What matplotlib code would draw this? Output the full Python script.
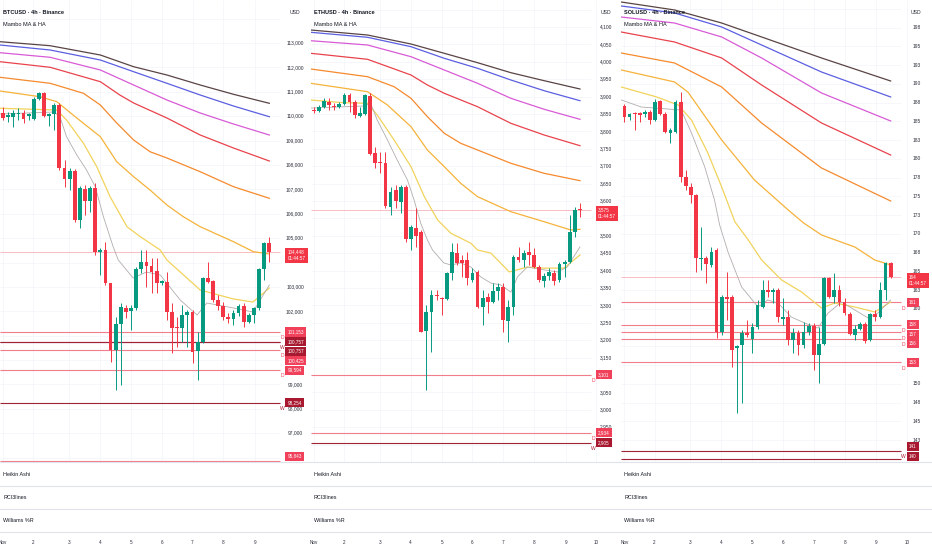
import matplotlib
matplotlib.use("Agg")
import matplotlib.pyplot as plt
from matplotlib import font_manager, transforms

# ---------------------------------------------------------------- data
btc_open = [110130, 109966, 109966, 110069, 110130, 110007, 109884, 110704, 110950, 110007,
            110089, 110458, 107875, 107424, 107752, 105743, 107014, 106522, 107055, 104431,
            104513, 103160, 100413, 101479, 102135, 102012, 102135, 103734, 104021, 103857,
            103652, 103160, 103201, 101971, 101356, 101315, 101848, 101971, 100372, 100741,
            103365, 103242, 102463, 102217, 101766, 101684, 101930, 102217, 101561, 101848,
            102135, 103734, 104800]
btc_high = [110376, 110171, 110253, 110335, 110253, 110130, 110786, 110991, 110991, 110130,
            110540, 110540, 108203, 107875, 107834, 107137, 107178, 107137, 107260, 104595,
            104841, 103160, 101766, 102340, 102258, 102258, 103816, 104513, 104513, 104185,
            104185, 103283, 103611, 102340, 101766, 102258, 102053, 102053, 101151, 103406,
            104021, 103283, 102668, 102381, 101930, 102053, 102299, 102340, 101930, 102176,
            103775, 104841, 105046]
btc_low = [109843, 109761, 109556, 109843, 109720, 109843, 109843, 110663, 109966, 109597,
           109433, 107793, 107096, 106973, 105661, 105415, 105948, 106071, 104308, 103488,
           103078, 99921, 98773, 98978, 101725, 101233, 102053, 103570, 102996, 102750,
           102750, 103078, 101643, 100290, 100536, 100741, 100536, 99880, 99183, 100700,
           103160, 102381, 102053, 101643, 101520, 101438, 101807, 101356, 101520, 101520,
           102053, 103283, 104021]
btc_close = [109925, 110048, 110130, 110130, 109884, 110089, 110704, 110950, 110007, 110089,
             110458, 107875, 107424, 107752, 105743, 107055, 106522, 107055, 104431, 104513,
             103160, 100413, 101479, 102176, 101971, 102135, 103734, 104021, 103857, 103611,
             103160, 103242, 101971, 101315, 101315, 101848, 101971, 100331, 100741, 103365,
             103201, 102463, 102217, 101766, 101684, 101930, 102217, 101561, 101848, 102135,
             103734, 104800, 104448]

eth_open = [3862, 3858.6, 3870.1, 3884.4, 3872.9, 3870.1, 3878.7, 3904.6, 3884.4, 3844.2,
            3849.9, 3901.7, 3737.9, 3712.0, 3709.1, 3582.7, 3631.5, 3597.0, 3640.2, 3490.7,
            3522.3, 3510.8, 3226.3, 3280.9, 3329.8, 3321.1, 3318.3, 3393.0, 3450.5, 3430.4,
            3430.4, 3372.9, 3395.9, 3295.3, 3324.0, 3309.6, 3341.3, 3352.8, 3255.0, 3295.3,
            3439.0, 3430.4, 3453.4, 3444.7, 3410.2, 3370.0, 3384.4, 3393.0, 3372.9, 3418.9,
            3424.6, 3510.8, 3576]
eth_high = [3870, 3875.8, 3895.9, 3895.9, 3881.6, 3884.4, 3910.3, 3910.3, 3890.2, 3870.1,
            3907.5, 3910.3, 3755.1, 3740.8, 3740.8, 3640.2, 3645.9, 3645.9, 3645.9, 3531.0,
            3579.8, 3516.6, 3301.0, 3344.1, 3344.1, 3324.0, 3395.9, 3479.2, 3479.2, 3444.7,
            3453.4, 3407.3, 3401.6, 3344.1, 3335.5, 3364.3, 3364.3, 3364.3, 3315.4, 3444.7,
            3467.7, 3459.1, 3482.1, 3464.8, 3416.0, 3393.0, 3407.3, 3401.6, 3424.6, 3430.4,
            3559.7, 3582.7, 3594.2]
eth_low = [3853, 3855.7, 3867.2, 3861.5, 3861.5, 3867.2, 3875.8, 3855.7, 3838.5, 3841.3,
           3847.1, 3732.1, 3694.8, 3680.4, 3579.8, 3559.7, 3579.8, 3565.4, 3482.1, 3459.1,
           3467.7, 3223.4, 3056.7, 3166.0, 3315.4, 3272.3, 3315.4, 3372.9, 3416.0, 3381.5,
           3358.5, 3367.2, 3292.4, 3243.5, 3278.0, 3306.8, 3315.4, 3223.4, 3194.7, 3272.3,
           3424.6, 3410.2, 3416.0, 3407.4, 3367.2, 3352.8, 3372.9, 3358.5, 3367.2, 3381.5,
           3421.7, 3496.5, 3554.0]
eth_close = [3860, 3870.1, 3887.3, 3875.8, 3870.1, 3878.7, 3904.6, 3884.4, 3847.1, 3852.8,
             3904.6, 3735.0, 3709.1, 3709.1, 3585.5, 3625.8, 3599.9, 3640.2, 3490.7, 3525.2,
             3499.3, 3223.4, 3280.9, 3329.8, 3326.9, 3318.3, 3393.0, 3453.4, 3421.7, 3421.7,
             3378.6, 3393.0, 3295.3, 3321.1, 3309.6, 3341.3, 3352.8, 3257.9, 3295.3, 3439.0,
             3430.4, 3450.5, 3444.7, 3410.2, 3372.9, 3384.4, 3395.9, 3370.0, 3418.9, 3424.6,
             3510.8, 3574.1, 3575]

sol_open = [187.07, 185.6, 186.13, 186.13, 186.0, 186.27, 185.2, 187.73, 186.0, 183.47,
            183.6, 187.6, 177.6, 176.27, 175.2, 166.67, 166.8, 165.87, 167.87, 156.93,
            161.6, 161.6, 154.8, 155.2, 156.8, 156.0, 157.6, 160.27, 162.53, 162.27,
            162.53, 158.67, 158.93, 155.87, 156.8, 155.2, 156.93, 157.73, 153.87, 155.33,
            164.13, 161.6, 162.53, 160.93, 159.33, 156.53, 157.33, 158.0, 155.87, 159.33,
            158.93, 162.53, 166.13]
sol_high = [187.33, 186.13, 186.27, 186.27, 186.53, 186.53, 188.0, 187.87, 186.27, 184.13,
            187.87, 188.93, 178.53, 176.8, 175.33, 170.93, 167.07, 168.27, 168.13, 161.87,
            164.93, 161.87, 155.2, 157.2, 158.53, 158.13, 161.2, 163.87, 163.87, 162.8,
            162.8, 161.47, 159.87, 157.47, 157.2, 158.27, 158.13, 158.13, 157.6, 164.27,
            164.27, 164.8, 163.2, 161.47, 159.6, 157.87, 158.27, 158.27, 159.47, 159.87,
            163.6, 166.27, 166.27]
sol_low = [184.93, 185.2, 183.87, 184.93, 185.6, 184.67, 185.07, 185.87, 183.47, 182.13,
           183.47, 176.93, 175.87, 174.13, 164.93, 165.2, 163.47, 165.6, 156.13, 156.5,
           158.53, 152.27, 146.13, 147.47, 156.27, 154.13, 157.33, 160.13, 161.6, 160.8,
           158.27, 157.87, 155.2, 154.13, 153.87, 154.8, 156.53, 151.87, 150.13, 155.2,
           161.47, 160.8, 160.4, 159.2, 156.53, 155.87, 157.2, 155.47, 155.73, 158.4,
           158.8, 161.2, 164.13]
sol_close = [185.6, 186.0, 186.0, 185.87, 186.27, 185.2, 187.6, 186.0, 183.6, 183.87,
             187.6, 177.6, 176.4, 175.2, 166.8, 166.8, 166.0, 167.6, 156.93, 161.6,
             161.33, 154.53, 155.07, 156.8, 156.53, 157.6, 160.53, 162.53, 162.27, 162.53,
             158.93, 158.93, 155.87, 156.8, 155.2, 156.93, 157.73, 153.87, 155.33, 164.13,
             161.6, 162.53, 160.93, 159.47, 156.67, 157.33, 158.0, 155.73, 159.33, 158.93,
             162.53, 166.13, 164.3]

# moving averages (sampled at candle positions)
btc_slow_x = [-0.6, 9.2, 19, 25.5, 32, 38.5, 45, 52]
btc_ma_brown = [113053, 112889, 112508, 112028, 111688, 111278, 110897, 110528]
btc_ma_blue = [112918, 112713, 112303, 111823, 111348, 110868, 110417, 109978]
btc_ma_magenta = [112602, 112414, 111893, 111278, 110663, 110130, 109679, 109228]
btc_red_x = [-0.6, 9.2, 19, 22.8, 25.5, 32, 38.5, 45, 52]
btc_ma_red = [112233, 112004, 111413, 110868, 110540, 109925, 109228, 108695, 108162]
btc_orange_x = [-0.6, 9.2, 15.7, 19, 22.2, 25.5, 28.7, 32, 38.5, 45, 52]
btc_ma_orange = [111594, 111348, 110938, 110458, 109720, 109023, 108543, 108285, 107723,
                 107108, 106633]
btc_gold_x = [-0.6, 7.2, 10.5, 14.4, 19, 22.2, 25.5, 28.7, 32, 35.2, 38.5, 45, 48.9, 52]
btc_ma_gold = [111032, 110798, 110593, 109925, 109158, 108133, 107518, 106973, 106358,
               105878, 105468, 104853, 104443, 104349]
btc_yellow_x = [-0.6, 5.9, 10.5, 12.4, 15.7, 18.3, 20.9, 24.2, 26.8, 30.7, 32, 34.6, 38.5,
                45, 48.8, 52]
btc_ma_yellow = [110323, 110282, 110253, 109843, 108888, 107928, 106698, 105468, 105058,
                 104513, 104103, 103611, 102873, 102504, 102381, 102955]
btc_gray_x = [-0.6, 10, 11.1, 12.4, 14.4, 16.3, 18, 19.6, 21.5, 22.5, 25.4, 28, 30.7, 34.6,
              37.9, 39.8, 45, 48.8, 52]
btc_ma_gray = [110089, 110171, 109978, 109158, 108408, 107793, 107108, 105878, 104648,
               104103, 103365, 103611, 103488, 102463, 101848, 102340, 102135, 101971, 103078]

eth_slow_x = [-0.6, 10.5, 19, 25.5, 32, 38.5, 45, 52]
eth_ma_brown = [4091.4, 4077.0, 4051.1, 4024.4, 3997.4, 3968.7, 3945.7, 3921.8]
eth_ma_blue = [4084.8, 4070.4, 4043.4, 4010.0, 3981.3, 3947.7, 3916.9, 3888.2]
eth_ma_magenta = [4060.6, 4048.3, 4014.6, 3976.4, 3938.2, 3895.1, 3863.5, 3834.7]
eth_red_x = [-0.6, 10.5, 19, 22.2, 25.5, 32, 38.5, 45, 52]
eth_ma_red = [4024.4, 4007.2, 3962.0, 3933.3, 3909.5, 3870.9, 3823.2, 3789.6, 3758.9]
eth_orange_x = [-0.6, 10.5, 15.7, 19, 22.2, 25.5, 28.7, 32, 38.5, 45, 52]
eth_ma_orange = [3979.3, 3957.2, 3928.4, 3895.1, 3842.2, 3794.5, 3765.8, 3746.5, 3708.3,
                 3679.5, 3658.3]
eth_gold_x = [-0.6, 10.5, 14.4, 19, 22.2, 25.5, 28.7, 32, 38.5, 45, 50.2, 52]
eth_ma_gold = [3938.2, 3914.1, 3875.8, 3813.5, 3746.5, 3698.5, 3650.8, 3612.3, 3569.2,
               3540.4, 3516.6, 3518.6]
eth_yellow_x = [-0.6, 5.9, 10.5, 12.4, 15.7, 19, 21.6, 24.2, 26.8, 30.7, 32, 34.6, 38.2,
                41.7, 45, 48.9, 52]
eth_ma_yellow = [3890.2, 3882.4, 3880.7, 3847.1, 3775.2, 3698.5, 3612.3, 3545.3, 3507.1,
                 3478.4, 3459.1, 3450, 3396, 3410, 3407, 3407, 3445]
eth_gray_x = [-0.6, 9.8, 11.1, 12.4, 14.4, 16.3, 18.3, 19.6, 20.9, 22.2, 23.2, 25.4, 26.8,
              28.7, 30.7, 32.6, 34.6, 36.5, 38.5, 39.8, 41.7, 45, 47.6, 49.5, 52]
eth_ma_gray = [3867, 3873, 3880.7, 3832.7, 3775.2, 3717.8, 3660.3, 3602.8, 3535.8, 3487.8,
               3459.1, 3422, 3416, 3422, 3410, 3382, 3364, 3359, 3338, 3382, 3410, 3402,
               3396, 3410, 3468]

sol_slow_x = [-0.6, 9.8, 19, 26.8, 38.5, 52]
sol_ma_brown = [200.93, 199.87, 198.13, 196.27, 193.47, 190.4]
sol_ma_blue = [200.4, 199.47, 197.6, 195.2, 191.6, 188.27]
sol_ma_magenta = [198.93, 198.13, 196.27, 193.47, 188.8, 185.07]
sol_ma_red = [196.93, 195.6, 193.47, 189.87, 184.8, 180.53]
sol_ma_orange = [194.13, 192.8, 189.6, 184.8, 178.8, 174.4]
sol_gold_x = [-0.6, 9.8, 12.4, 19, 25.4, 32, 35, 38.5, 45, 48.9, 52]
sol_ma_gold = [191.87, 190.27, 188.93, 182.53, 177.2, 173.2, 171.47, 169.87, 168.27, 166.53,
               165.87]
sol_yellow_x = [-0.6, 6.3, 10.5, 13.1, 16.3, 19, 21.6, 24.2, 26.8, 30.7, 34.6, 38.5, 41.1,
                45, 48.9, 52]
sol_ma_yellow = [189.6, 188.27, 187.2, 185.2, 180.8, 176.27, 171.6, 169.2, 166.53, 163.87,
                 162.27, 160.13, 160.8, 160.27, 159.6, 160.93]
sol_gray_x = [-0.6, 3.3, 11.1, 13.1, 15.7, 17.6, 18.6, 20.3, 22.9, 26.1, 28, 30, 32.6, 35.2,
              37.8, 39.8, 42.4, 45, 47.6, 49.5, 52]
sol_ma_gray = [187.87, 186.93, 186.53, 183.47, 178.93, 174.53, 171.2, 167.47, 162.93, 160.27,
               161.2, 160.8, 158.93, 158.13, 157.47, 159.47, 160.93, 159.87, 158.8, 159.47,
               161.2]

# support / resistance levels
btc_levels = [101153, 100757, 100757, 100425, 99594, 98254, 95843]
btc_level_tags = ["D", "W", "", "D", "D", "W", ""]
btc_level_dark = [False, True, True, False, False, True, False]
eth_levels = [3101, 2934, 2905]
eth_level_tags = ["D", "D", "W"]
eth_level_dark = [False, False, True]
sol_levels = [160.9, 157.9, 156.9, 156.0, 152.9, 141.1, 140.0]
sol_level_tags = ["D", "D", "D", "D", "D", "W", ""]
sol_level_dark = [False, False, False, False, False, True, True]

# axis ticks
btc_ticks = list(range(96000, 115000, 1000))
btc_tick_labels = [f"{v:,}" for v in btc_ticks]
eth_ticks = list(range(2900, 4200, 50))
eth_tick_labels = [f"{v:,}" for v in eth_ticks]
sol_ticks = [142.5, 145, 147.5, 150, 152.5, 155, 157.5, 160, 162.5, 165, 167.5, 170, 172.5,
             175, 177.5, 180, 182.5, 185, 187.5, 190, 192.5, 195, 197.5, 200]
sol_tick_labels = ["143", "145", "148", "150", "153", "155", "158", "160", "163", "165",
                   "168", "170", "173", "175", "178", "180", "183", "185", "188", "190",
                   "193", "195", "198", "200"]

day_labels_btc = ["Nov", "2", "3", "4", "5", "6", "7", "8", "9"]
day_labels_eth = ["Nov", "2", "3", "4", "5", "6", "7", "8", "9", "10"]
day_labels_sol = ["Nov", "2", "3", "4", "5", "6", "7", "8", "9", "10"]
day_positions = [0, 5.9, 12.9, 18.9, 25.0, 31.0, 37.0, 43.0, 49.2, 55.2]

titles = ["BTCUSD · 4h · Binance", "ETHUSD · 4h · Binance", "SOLUSD · 4h · Binance"]
price_labels = ["104,448", "3,575", "164"]
countdown = "01:44:57"
pane_names = ["Heikin Ashi", "RCI3lines", "Williams %R"]

# ---------------------------------------------------------------- style
names = {f.name for f in font_manager.fontManager.ttflist}
if "Liberation Sans Narrow" in names:
    plt.rcParams["font.family"] = ["Liberation Sans Narrow", "DejaVu Sans"]
    FS = 1.0
else:
    plt.rcParams["font.family"] = ["Liberation Sans", "DejaVu Sans"]
    FS = 0.84

W_PX, H_PX = 932, 550
PANEL_W = W_PX / 3
MAIN_H = 462
PLOT_W = 280
PX_PER_C = 5.12
X0 = -0.6
GREEN, RED = "#089981", "#f23645"
TXT = "#131722"
MA_COLORS = ["#5a4444", "#5b5fe0", "#d85bd6", "#e8434c", "#f58a2e", "#f5b33b", "#f1d35c"]
GRAY = "#b3adad"
LIGHT_LVL, DARK_LVL = "#f07d89", "#9e2336"
LIGHT_LBL, DARK_LBL = "#f0405a", "#a8192f"

fig = plt.figure(figsize=(W_PX / 100, H_PX / 100), dpi=100)
fig.patch.set_facecolor("white")

panels = [
    dict(o=btc_open, h=btc_high, l=btc_low, c=btc_close,
         mas=[(btc_slow_x, btc_ma_brown), (btc_slow_x, btc_ma_blue), (btc_slow_x, btc_ma_magenta),
              (btc_red_x, btc_ma_red), (btc_orange_x, btc_ma_orange), (btc_gold_x, btc_ma_gold),
              (btc_yellow_x, btc_ma_yellow)],
         gray=(btc_gray_x, btc_ma_gray), ylim=(95821, 114763),
         levels=btc_levels, tags=btc_level_tags, dark=btc_level_dark,
         fmt=lambda v: f"{v:,.0f}", ticks=btc_ticks, tick_labels=btc_tick_labels,
         days=day_labels_btc),
    dict(o=eth_open, h=eth_high, l=eth_low, c=eth_close,
         mas=[(eth_slow_x, eth_ma_brown), (eth_slow_x, eth_ma_blue), (eth_slow_x, eth_ma_magenta),
              (eth_red_x, eth_ma_red), (eth_orange_x, eth_ma_orange), (eth_gold_x, eth_ma_gold),
              (eth_yellow_x, eth_ma_yellow)],
         gray=(eth_gray_x, eth_ma_gray), ylim=(2849.8, 4177.6),
         levels=eth_levels, tags=eth_level_tags, dark=eth_level_dark,
         fmt=lambda v: f"{v:,.0f}", ticks=eth_ticks, tick_labels=eth_tick_labels,
         days=day_labels_eth),
    dict(o=sol_open, h=sol_high, l=sol_low, c=sol_close,
         mas=[(sol_slow_x, sol_ma_brown), (sol_slow_x, sol_ma_blue), (sol_slow_x, sol_ma_magenta),
              (sol_slow_x, sol_ma_red), (sol_slow_x, sol_ma_orange), (sol_gold_x, sol_ma_gold),
              (sol_yellow_x, sol_ma_yellow)],
         gray=(sol_gray_x, sol_ma_gray), ylim=(139.6, 201.2),
         levels=sol_levels, tags=sol_level_tags, dark=sol_level_dark,
         fmt=lambda v: f"{v:.0f}", ticks=sol_ticks, tick_labels=sol_tick_labels,
         days=day_labels_sol),
]

xmax_data = X0 + PANEL_W / PX_PER_C
plot_right = X0 + PLOT_W / PX_PER_C
axis_x_frac = 295 / PANEL_W
label_x_frac = 287.5 / PANEL_W
tag_x_frac = 282.5 / PANEL_W


def px_of(ylim, v):
    return (ylim[1] - v) / (ylim[1] - ylim[0]) * MAIN_H


for k, p in enumerate(panels):
    left = k * PANEL_W / W_PX
    ax = fig.add_axes([left, 1 - MAIN_H / H_PX, PANEL_W / W_PX, MAIN_H / H_PX])
    ax.set_xlim(X0, xmax_data)
    ax.set_ylim(*p["ylim"])
    ax.axis("off")
    ylim = p["ylim"]
    ppx = (ylim[1] - ylim[0]) / MAIN_H  # price per pixel
    bt = transforms.blended_transform_factory(ax.transAxes, ax.transData)

    # faint grid
    gt = [t for t in p["ticks"] if ylim[0] < t < ylim[1]]
    ax.hlines(gt, X0, plot_right, color="#f3f4f8", lw=0.5, zorder=0)
    ax.vlines(day_positions[:len(p["days"])], ylim[0], ylim[1], color="#f3f4f8", lw=0.5, zorder=0)

    # MAs
    for (xs, ys), col in zip(p["mas"], MA_COLORS):
        ax.plot(xs, ys, color=col, lw=0.9, zorder=2, solid_joinstyle="round")
    ax.plot(p["gray"][0], p["gray"][1], color=GRAY, lw=0.6, zorder=2)

    # candles
    n = len(p["o"])
    xs = list(range(n))
    cols = [GREEN if c >= o else RED for o, c in zip(p["o"], p["c"])]
    ax.vlines(xs, p["l"], p["h"], colors=cols, lw=0.7, zorder=3)
    bottoms = [min(o, c) for o, c in zip(p["o"], p["c"])]
    heights = [max(abs(c - o), ppx * 1.0) for o, c in zip(p["o"], p["c"])]
    ax.bar(xs, heights, bottom=bottoms, width=0.74, color=cols, lw=0, zorder=4)

    # level lines
    for lv, dk, tg in zip(p["levels"], p["dark"], p["tags"]):
        ax.hlines(lv, X0, plot_right, color=DARK_LVL if dk else LIGHT_LVL, lw=0.8, zorder=1.5)
        if tg:
            ax.text(tag_x_frac, lv - 6 * ppx, tg, transform=bt, ha="center", va="center",
                    fontsize=4.3 * FS, color=DARK_LBL if tg == "W" else "#f0405a", zorder=6)

    # price line
    last = p["c"][-1]
    ax.hlines(last, X0, plot_right, color="#f6b3b9", lw=0.6, zorder=1.5)

    # label layout (stacking in pixel space)
    items = [dict(px=px_of(ylim, last), h=17, kind="price")]
    for lv, dk in zip(p["levels"], p["dark"]):
        items.append(dict(px=px_of(ylim, lv), h=9.5, kind="lvl", v=lv, dark=dk))
    items.sort(key=lambda d: d["px"])
    prev_bottom = -1e9
    for it in items:
        top = it["px"] - 4.75
        top = max(top, prev_bottom)
        it["top"] = top
        prev_bottom = top + it["h"]
    limit = MAIN_H - 1
    for it in reversed(items):
        if it["top"] + it["h"] > limit:
            it["top"] = limit - it["h"]
        limit = it["top"]
    boxes = []
    for it in items:
        center_px = it["top"] + it["h"] / 2
        yv = ylim[1] - center_px * ppx
        boxes.append((it["top"], it["top"] + it["h"]))
        if it["kind"] == "price":
            ax.text(label_x_frac, yv, price_labels[k] + "\n" + countdown, transform=bt,
                    ha="left", va="center", fontsize=4.0 * FS, color="white", linespacing=1.35,
                    zorder=8, bbox=dict(boxstyle="square,pad=0.45", fc=RED, ec="none"))
        else:
            ax.text(label_x_frac, yv, p["fmt"](it["v"]), transform=bt, ha="left", va="center",
                    fontsize=4.0 * FS, color="white", zorder=8,
                    bbox=dict(boxstyle="square,pad=0.45",
                              fc=DARK_LBL if it["dark"] else LIGHT_LBL, ec="none"))

    # y axis tick labels
    for t, lab in zip(p["ticks"], p["tick_labels"]):
        tp = px_of(ylim, t)
        if tp < 24 or tp > MAIN_H - 3:
            continue
        if any(b0 + 1 < tp < b1 - 1 for b0, b1 in boxes):
            continue
        ax.text(axis_x_frac, t, lab, transform=bt, ha="center", va="center",
                fontsize=4.2 * FS, color="#2a2e39", zorder=5)
    ax.text(axis_x_frac, 1 - 12 / MAIN_H, "USD", transform=ax.transAxes, ha="center",
            va="center", fontsize=4.4 * FS, color="#2a2e39")

    # titles
    ax.text(3 / PANEL_W, 1 - 12 / MAIN_H, titles[k], transform=ax.transAxes, ha="left",
            va="center", fontsize=4.7 * FS, fontweight="bold", color=TXT, zorder=9)
    ax.text(3 / PANEL_W, 1 - 24 / MAIN_H, "Mambo MA & HA", transform=ax.transAxes, ha="left",
            va="center", fontsize=4.7 * FS, color=TXT, zorder=9)

    # sub-pane names
    for j, nm in enumerate(pane_names):
        fig.text(left + 3 / W_PX, 1 - (474 + 23.3 * j) / H_PX, nm, ha="left", va="center",
                 fontsize=4.6 * FS, color=TXT)

    # date labels
    dt = transforms.blended_transform_factory(ax.transData, fig.transFigure)
    for pos, lab in zip(day_positions, p["days"]):
        ax.text(pos, 1 - 543 / H_PX, lab, transform=dt, ha="center", va="center",
                fontsize=4.0 * FS, color="#2a2e39", clip_on=False)

# pane separators
for ypx in [462, 486, 509, 532]:
    fig.add_artist(plt.Line2D([0, 1], [1 - ypx / H_PX] * 2, transform=fig.transFigure,
                              color="#e0e3eb", lw=0.8))

fig.savefig("out.png", dpi=100, facecolor="white")
